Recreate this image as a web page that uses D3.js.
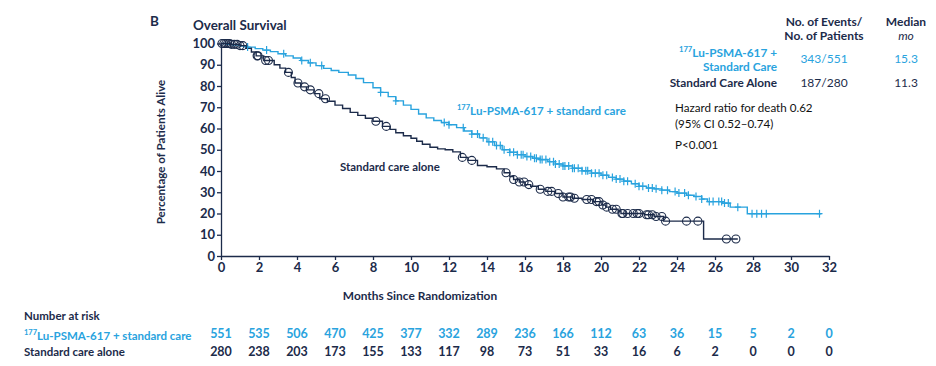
<!DOCTYPE html>
<html>
<head>
<meta charset="utf-8">
<script src="https://cdn.jsdelivr.net/npm/d3@7"></script>
<style>
  body { margin: 0; background: #fff; }
  svg { display: block; font-family: Lato, "Open Sans", sans-serif; }
</style>
</head>
<body>
<div id="chart"></div>
<script>
// tick labels
var xTicks = [0, 2, 4, 6, 8, 10, 12, 14, 16, 18, 20, 22, 24, 26, 28, 30, 32];
var yTicks = [0, 10, 20, 30, 40, 50, 60, 70, 80, 90, 100];

// number at risk (at each x tick)
var riskLu = [551, 535, 506, 470, 425, 377, 332, 289, 236, 166, 112, 63, 36, 15, 5, 2, 0];
var riskSC = [280, 238, 203, 173, 155, 133, 117, 98, 73, 51, 33, 16, 6, 2, 0, 0, 0];

// KM steps [month, % alive]
var luSteps = [
  [0, 100], [0.3, 99.6], [0.6, 99.3], [1.0, 98.8], [1.4, 98.3], [1.8, 97.6],
  [2.2, 96.9], [2.6, 96.2], [3.0, 95.2], [3.4, 94.2], [3.8, 93.2], [4.2, 92.0],
  [4.6, 90.9], [5.0, 89.6], [5.4, 88.3], [5.8, 87.3], [6.2, 86.4], [6.7, 85.2],
  [7.1, 83.5], [7.5, 81.6], [8.0, 79.2], [8.4, 77.0], [8.8, 75.0], [9.2, 73.0],
  [9.6, 71.0], [10.0, 69.0], [10.4, 66.8], [10.8, 65.0], [11.2, 63.8], [11.6, 62.8],
  [12.0, 61.8], [12.4, 60.4], [12.8, 58.8], [13.2, 57.4], [13.6, 55.6], [14.0, 53.8],
  [14.4, 52.0], [14.8, 50.0], [15.2, 48.8], [15.6, 47.7], [16.0, 46.8], [16.4, 46.0],
  [16.8, 45.4], [17.2, 44.4], [17.6, 43.3], [18.0, 42.4], [18.5, 41.3], [19.0, 40.1],
  [19.5, 39.0], [20.0, 38.0], [20.4, 37.0], [20.8, 36.2], [21.2, 35.2], [21.6, 34.0],
  [22.0, 32.8], [22.4, 32.0], [22.8, 31.6], [23.2, 31.0], [23.6, 30.3], [24.0, 29.6],
  [24.5, 28.6], [24.9, 28.0], [25.3, 26.8], [25.6, 25.6], [26.4, 24.9], [26.8, 23.0],
  [27.7, 19.9]
];
var luEnd = 31.6;

var scSteps = [
  [0, 100], [0.5, 99.6], [1.0, 99.0], [1.3, 97.8], [1.6, 96.0], [1.85, 94.2],
  [2.25, 92.0], [2.8, 90.0], [3.1, 88.4], [3.4, 86.4], [3.7, 84.0], [3.9, 81.4],
  [4.2, 79.6], [4.5, 78.2], [4.9, 76.4], [5.2, 74.0], [5.6, 72.8], [6.0, 71.0],
  [6.4, 69.4], [6.8, 67.6], [7.2, 66.2], [7.6, 64.8], [8.0, 63.4], [8.5, 61.0],
  [8.9, 59.6], [9.2, 58.0], [9.6, 56.6], [10.0, 55.4], [10.3, 54.0], [10.6, 52.6],
  [11.0, 51.2], [11.4, 50.4], [11.8, 50.0], [12.2, 49.0], [12.6, 46.4], [13.0, 45.0],
  [13.5, 42.6], [14.0, 42.0], [14.5, 41.0], [14.9, 39.2], [15.2, 37.4], [15.4, 36.0],
  [15.7, 34.8], [16.0, 33.6], [16.3, 32.8], [16.7, 31.4], [17.1, 30.4], [17.6, 29.4],
  [18.0, 27.8], [18.5, 27.2], [19.0, 26.6], [19.6, 25.6], [20.05, 24.0], [20.25, 23.0],
  [20.5, 22.0], [20.9, 21.2], [21.05, 20.0], [22.3, 19.4], [22.8, 18.6], [23.3, 16.4],
  [25.4, 8.0]
];
var scEnd = 27.2;

// censored patients (months)
var luCensor = [1.4, 2.4, 3.3, 4.25, 4.7, 5.3, 8.4, 9.2, 11.75, 12.0, 12.75, 13.2,
  13.5, 13.8, 14.1, 14.3, 14.5, 14.7, 14.9, 15.2, 15.4, 15.6, 15.8, 15.9, 16.1, 16.3,
  16.5, 16.6, 16.8, 16.9, 17.1, 17.3, 17.5, 17.6, 17.8, 18.0, 18.1, 18.3, 18.5, 18.6,
  18.8, 19.0, 19.2, 19.3, 19.5, 19.7, 19.9, 20.1, 20.3, 20.6, 20.8, 21.0, 21.2, 21.4,
  21.8, 22.0, 22.2, 22.5, 22.7, 22.9, 23.2, 23.5, 23.9, 24.1, 24.4, 24.6, 25.0, 25.3,
  25.7, 25.9, 26.2, 26.35, 26.5, 26.7, 27.2, 27.95, 28.2, 28.45, 28.7, 31.5];
var scCensor = [0.05, 0.15, 0.25, 0.35, 0.45, 0.55, 0.7, 0.85, 1.0, 1.15, 1.9, 1.95,
  2.35, 2.5, 3.55, 4.05, 4.4, 4.7, 5.15, 5.5, 8.15, 8.7, 12.7, 13.2, 15.0, 15.4, 15.7,
  15.95, 16.2, 16.8, 17.2, 17.4, 17.75, 18.0, 18.3, 18.4, 18.6, 19.25, 19.5, 19.76,
  19.9, 20.1, 20.3, 20.6, 20.8, 21.1, 21.15, 21.4, 21.7, 21.9, 22.0, 22.4, 22.5, 22.7,
  22.9, 23.2, 23.4, 24.5, 25.1, 26.6, 27.1];

var blue = "#29a3de",
  navy = "#1c2b4a";

var svg = d3
  .select("#chart")
  .append("svg")
  .attr("width", 936)
  .attr("height", 366);

// set the ranges
var x = d3.scaleLinear().domain([0, 32]).range([221, 829]);
var y = d3.scaleLinear().domain([0, 100]).range([256, 43.5]);

// survival at time t from a step list
function survAt(steps, t) {
  var v = steps[0][1];
  steps.forEach(function(s) {
    if (s[0] <= t) v = s[1];
  });
  return v;
}

// add the x Axis
var gx = svg
  .append("g")
  .attr("transform", "translate(0," + y(0) + ")")
  .call(d3.axisBottom(x).tickValues(xTicks).tickSize(4).tickSizeOuter(0).tickPadding(3));
// add the y Axis
var gy = svg
  .append("g")
  .attr("transform", "translate(" + x(0) + ",0)")
  .call(d3.axisLeft(y).tickValues(yTicks).tickSize(4).tickSizeOuter(0).tickPadding(2));

[gx, gy].forEach(function(g) {
  g.select(".domain").attr("stroke", navy).attr("stroke-width", 1.3);
  g.selectAll(".tick line").attr("stroke", navy).attr("stroke-width", 1.3);
  g.selectAll(".tick text")
    .attr("fill", navy)
    .style("font-family", "Lato, sans-serif")
    .style("font-size", "13px")
    .style("font-weight", "bold");
});

// curves
var line = d3
  .line()
  .x(function(d) { return x(d[0]); })
  .y(function(d) { return y(d[1]); })
  .curve(d3.curveStepAfter);

svg
  .append("path")
  .attr("d", line(luSteps.concat([[luEnd, luSteps[luSteps.length - 1][1]]])))
  .attr("fill", "none")
  .attr("stroke", blue)
  .attr("stroke-width", 1.4);

svg
  .append("path")
  .attr("d", line(scSteps.concat([[scEnd, scSteps[scSteps.length - 1][1]]])))
  .attr("fill", "none")
  .attr("stroke", navy)
  .attr("stroke-width", 1.4);

// censor marks
svg
  .selectAll(".cens-lu")
  .data(luCensor)
  .enter()
  .append("path")
  .attr("class", "cens-lu")
  .attr("d", function(d) {
    var cx = x(d), cy = y(survAt(luSteps, d));
    return "M" + cx + "," + (cy - 4) + "V" + (cy + 4) + "M" + (cx - 3) + "," + cy + "H" + (cx + 3);
  })
  .attr("stroke", blue)
  .attr("stroke-width", 1.2)
  .attr("fill", "none");

svg
  .selectAll(".cens-sc")
  .data(scCensor)
  .enter()
  .append("circle")
  .attr("class", "cens-sc")
  .attr("cx", function(d) { return x(d); })
  .attr("cy", function(d) { return y(survAt(scSteps, d)); })
  .attr("r", 4)
  .attr("fill", "none")
  .attr("stroke", navy)
  .attr("stroke-width", 1.1);

// text helper
function label(txt, px, py, opts) {
  opts = opts || {};
  var t = svg
    .append("text")
    .attr("x", px)
    .attr("y", py)
    .attr("fill", opts.color || navy)
    .attr("text-anchor", opts.anchor || "start")
    .style("font-size", (opts.size || 12) + "px")
    .style("font-weight", opts.weight || "bold")
    .style("font-style", opts.italic ? "italic" : "normal");
  if (opts.sup) {
    t.append("tspan").attr("font-size", "0.65em").attr("dy", "-0.4em").text(opts.sup);
    t.append("tspan").attr("dy", "0.4em").text(txt);
  } else {
    t.text(txt);
  }
  return t;
}

// titles
label("B", 150, 26, { size: 13.5 });
label("Overall Survival", 193, 30, { size: 13.4 });
label("Months Since Randomization", 420, 300, { anchor: "middle", size: 11.9 });
svg
  .append("text")
  .attr("transform", "translate(165,152) rotate(-90)")
  .attr("text-anchor", "middle")
  .attr("fill", navy)
  .style("font-size", "11.6px")
  .style("font-weight", "bold")
  .text("Percentage of Patients Alive");

// curve labels
label("Lu-PSMA-617 + standard care", 457, 113, { color: blue, size: 11.6, sup: "177" });
label("Standard care alone", 340, 171, { size: 11.4 });

// legend table
label("No. of Events/", 824, 26, { anchor: "middle", size: 12 });
label("No. of Patients", 824, 40, { anchor: "middle", size: 12 });
label("Median", 906, 26, { anchor: "middle", size: 12 });
label("mo", 906, 40, { anchor: "middle", size: 12, weight: "normal", italic: true });
label("Lu-PSMA-617 +", 777, 55, { anchor: "end", color: blue, size: 11.8, sup: "177" });
label("Standard Care", 777, 71, { anchor: "end", color: blue, size: 11.8 });
label("343/551", 824, 63, { anchor: "middle", color: blue, size: 12, weight: "normal" });
label("15.3", 906, 63, { anchor: "middle", color: blue, size: 12, weight: "normal" });
label("Standard Care Alone", 777, 87, { anchor: "end", size: 11.8 });
label("187/280", 824, 87, { anchor: "middle", size: 12, weight: "normal" });
label("11.3", 906, 87, { anchor: "middle", size: 12, weight: "normal" });
label("Hazard ratio for death 0.62", 675, 112, { size: 11.6, weight: "normal", color: "#111" });
label("(95% CI 0.52\u20130.74)", 675, 128, { size: 11.6, weight: "normal", color: "#111" });
label("P<0.001", 675, 149, { size: 11.6, weight: "normal", color: "#111" });

// number at risk
label("Number at risk", 24, 320, { size: 11.5 });
label("Lu-PSMA-617 + standard care", 24, 338, { color: blue, size: 11.5, sup: "177" });
label("Standard care alone", 24, 356, { size: 11.5 });

svg
  .selectAll(".risk-lu")
  .data(riskLu)
  .enter()
  .append("text")
  .attr("class", "risk-lu")
  .attr("x", function(d, i) { return x(xTicks[i]); })
  .attr("y", 338)
  .attr("text-anchor", "middle")
  .attr("fill", blue)
  .style("font-size", "12.5px")
  .style("font-weight", "bold")
  .text(function(d) { return d; });

svg
  .selectAll(".risk-sc")
  .data(riskSC)
  .enter()
  .append("text")
  .attr("class", "risk-sc")
  .attr("x", function(d, i) { return x(xTicks[i]); })
  .attr("y", 356)
  .attr("text-anchor", "middle")
  .attr("fill", navy)
  .style("font-size", "12.5px")
  .style("font-weight", "bold")
  .text(function(d) { return d; });
</script>
</body>
</html>
